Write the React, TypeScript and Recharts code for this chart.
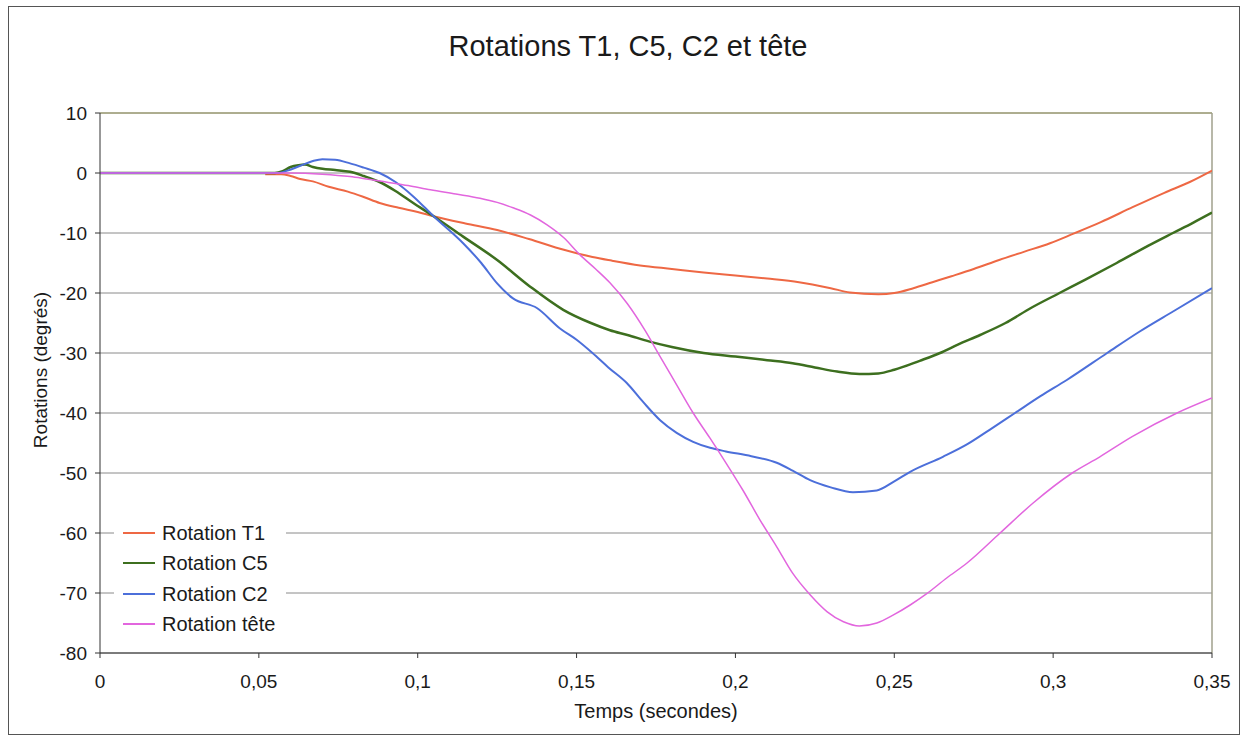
import React from "react";
import { LineChart, Line, XAxis, YAxis, CartesianGrid, ReferenceLine } from "recharts";

const X_TICKS = [0, 0.05, 0.1, 0.15, 0.2, 0.25, 0.3, 0.35];
const Y_TICKS = [-80, -70, -60, -50, -40, -30, -20, -10, 0, 10];

const T1_TIME = [0.052, 0.057, 0.06, 0.063, 0.067, 0.072, 0.078, 0.083, 0.088, 0.094, 0.1, 0.105, 0.115, 0.125, 0.135, 0.146, 0.155, 0.161, 0.17, 0.18, 0.19, 0.2, 0.21, 0.22, 0.23, 0.236, 0.245, 0.25, 0.256, 0.262, 0.268, 0.275, 0.283, 0.291, 0.299, 0.306, 0.315, 0.325, 0.335, 0.343, 0.35];
const T1_VALUE = [-0.2, -0.2, -0.5, -1.0, -1.4, -2.3, -3.1, -4.0, -5.0, -5.8, -6.5, -7.2, -8.4, -9.5, -11.0, -12.8, -14.0, -14.6, -15.4, -16.0, -16.6, -17.1, -17.6, -18.2, -19.2, -19.9, -20.2, -20.0, -19.2, -18.2, -17.2, -16.0, -14.5, -13.1, -11.7, -10.2, -8.2, -5.7, -3.3, -1.5, 0.4];

const C5_TIME = [0, 0.055, 0.0575, 0.06, 0.0625, 0.0645, 0.067, 0.07, 0.074, 0.0787, 0.083, 0.088, 0.093, 0.0986, 0.105, 0.1143, 0.125, 0.1353, 0.1458, 0.1545, 0.1605, 0.166, 0.173, 0.18, 0.19, 0.2, 0.21, 0.218, 0.225, 0.232, 0.239, 0.245, 0.25, 0.258, 0.2644, 0.27, 0.277, 0.285, 0.293, 0.302, 0.31, 0.32, 0.33, 0.3377, 0.344, 0.35];
const C5_VALUE = [0, 0, 0.3, 1.0, 1.3, 1.4, 1.0, 0.7, 0.5, 0.2, -0.5, -1.5, -3.0, -5.0, -7.2, -10.6, -14.5, -18.9, -22.8, -25.0, -26.2, -27.0, -28.1, -29.0, -30.0, -30.6, -31.2, -31.7, -32.4, -33.1, -33.5, -33.4, -32.8, -31.3, -30.0, -28.6, -27.0, -25.0, -22.5, -20.0, -17.8, -15.0, -12.1, -10.0, -8.3, -6.6];

const C2_TIME = [0, 0.056, 0.059, 0.063, 0.067, 0.07, 0.074, 0.0787, 0.083, 0.088, 0.093, 0.0986, 0.105, 0.1143, 0.12, 0.125, 0.13, 0.1375, 0.145, 0.15, 0.155, 0.16, 0.1658, 0.171, 0.1763, 0.1815, 0.1867, 0.192, 0.197, 0.205, 0.213, 0.218, 0.2235, 0.23, 0.237, 0.2445, 0.25, 0.255, 0.2653, 0.273, 0.28, 0.288, 0.296, 0.3043, 0.317, 0.327, 0.338, 0.35];
const C2_VALUE = [0, 0, 0.4, 1.2, 2.0, 2.3, 2.2, 1.6, 0.9, 0.0, -1.5, -3.9, -7.2, -11.7, -15.0, -18.4, -20.9, -22.5, -26.0, -27.8, -30.0, -32.4, -35.0, -38.2, -41.2, -43.3, -44.8, -45.8, -46.4, -47.2, -48.3, -49.6, -51.2, -52.4, -53.2, -52.9, -51.4, -49.8, -47.3, -45.2, -42.8, -40.0, -37.2, -34.5, -30.0, -26.5, -23.0, -19.2];

const TETE_TIME = [0, 0.06, 0.07, 0.0787, 0.0828, 0.09, 0.097, 0.104, 0.112, 0.1196, 0.125, 0.13, 0.1355, 0.1406, 0.146, 0.151, 0.156, 0.1605, 0.166, 0.1715, 0.1763, 0.1815, 0.1867, 0.192, 0.197, 0.2025, 0.2077, 0.213, 0.218, 0.2235, 0.2288, 0.234, 0.239, 0.2445, 0.2496, 0.255, 0.26, 0.2665, 0.2729, 0.2833, 0.2937, 0.306, 0.3147, 0.325, 0.339, 0.35];
const TETE_VALUE = [0, 0, -0.2, -0.6, -0.9, -1.5, -2.1, -2.8, -3.5, -4.2, -4.9, -5.8, -7.0, -8.6, -10.8, -13.6, -16.0, -18.3, -21.8, -26.2, -30.6, -35.3, -40.0, -44.2, -48.3, -53.0, -57.8, -62.3, -66.7, -70.3, -73.1, -74.8, -75.5, -75.0, -73.7, -72.0, -70.2, -67.5, -65.0, -60.0, -55.0, -50.0, -47.3, -43.9, -40.0, -37.5];

const SERIES_NAMES = ["Rotation T1", "Rotation C5", "Rotation C2", "Rotation tête"];
const SERIES_COLORS = ["#EE6844", "#3D6F1F", "#4C6FDA", "#E266DE"];
const SERIES_WIDTHS = [2, 2.5, 2, 1.5];

const toData = (times: number[], values: number[]) => times.map((t, i) => ({ t, v: values[i] }));
const SERIES_DATA = [
  toData(T1_TIME, T1_VALUE),
  toData(C5_TIME, C5_VALUE),
  toData(C2_TIME, C2_VALUE),
  toData(TETE_TIME, TETE_VALUE),
];

const FONT = "'Liberation Sans', Arial, Helvetica, sans-serif";
const fmt = (v: number) => String(v).replace(".", ",");

export default function App() {
  return (
    <div
      style={{
        position: "absolute",
        left: 8,
        top: 6,
        width: 1232,
        height: 729,
        border: "1px solid #555",
        boxSizing: "border-box",
        background: "#fff",
        fontFamily: FONT,
      }}
    >
      <LineChart width={1230} height={727} margin={{ top: 106, right: 27, bottom: 41, left: 0 }}>
        <CartesianGrid horizontal vertical={false} stroke="#8a8a8a" strokeWidth={1} />
        <XAxis
          dataKey="t"
          type="number"
          domain={[0, 0.35]}
          ticks={X_TICKS}
          tickFormatter={fmt}
          allowDataOverflow
          height={40}
          tickSize={5}
          tickMargin={17}
          axisLine={{ stroke: "#333", strokeWidth: 1 }}
          tickLine={{ stroke: "#333" }}
          tick={{ fontSize: 19, fill: "#1a1a1a", fontFamily: FONT }}
        />
        <YAxis
          type="number"
          domain={[-80, 10]}
          ticks={Y_TICKS}
          allowDataOverflow
          width={91}
          tickSize={5}
          tickMargin={8}
          tickFormatter={fmt}
          axisLine={{ stroke: "#333", strokeWidth: 1 }}
          tickLine={{ stroke: "#333" }}
          tick={{ fontSize: 19, fill: "#1a1a1a", fontFamily: FONT }}
        />
        <ReferenceLine y={10} stroke="#A6A67E" strokeWidth={1.5} />
        <ReferenceLine x={0.35} stroke="#A0A08C" strokeWidth={1.5} />
        {SERIES_DATA.map((d, i) => (
          <Line
            key={SERIES_NAMES[i]}
            data={d}
            dataKey="v"
            name={SERIES_NAMES[i]}
            type="monotone"
            stroke={SERIES_COLORS[i]}
            strokeWidth={SERIES_WIDTHS[i]}
            dot={false}
            activeDot={false}
            isAnimationActive={false}
          />
        ))}
      </LineChart>

      <svg
        width={1230}
        height={727}
        style={{ position: "absolute", left: 0, top: 0, pointerEvents: "none" }}
      >
        <text x={619} y={49} textAnchor="middle" fontSize={29} fill="#1a1a1a" fontFamily={FONT}>
          Rotations T1, C5, C2 et tête
        </text>
        <text x={647} y={711} textAnchor="middle" fontSize={20} fill="#1a1a1a" fontFamily={FONT}>
          Temps (secondes)
        </text>
        <text
          x={38}
          y={363}
          textAnchor="middle"
          fontSize={19}
          fill="#1a1a1a"
          fontFamily={FONT}
          transform="rotate(-90 38 363)"
        >
          Rotations (degrés)
        </text>
      </svg>

      <div
        style={{
          position: "absolute",
          left: 105,
          top: 511,
          width: 172,
          height: 122,
          background: "#fff",
        }}
      >
        {SERIES_NAMES.map((name, i) => (
          <div
            key={name}
            style={{
              position: "absolute",
              left: 0,
              top: 15 + i * 30.3 - 12,
              height: 24,
              width: 172,
              display: "flex",
              alignItems: "center",
            }}
          >
            <div
              style={{
                marginLeft: 9,
                width: 32,
                height: 2,
                background: SERIES_COLORS[i],
              }}
            />
            <span style={{ marginLeft: 7, fontSize: 20, color: "#1a1a1a", lineHeight: "24px", whiteSpace: "nowrap" }}>
              {name}
            </span>
          </div>
        ))}
      </div>
    </div>
  );
}
